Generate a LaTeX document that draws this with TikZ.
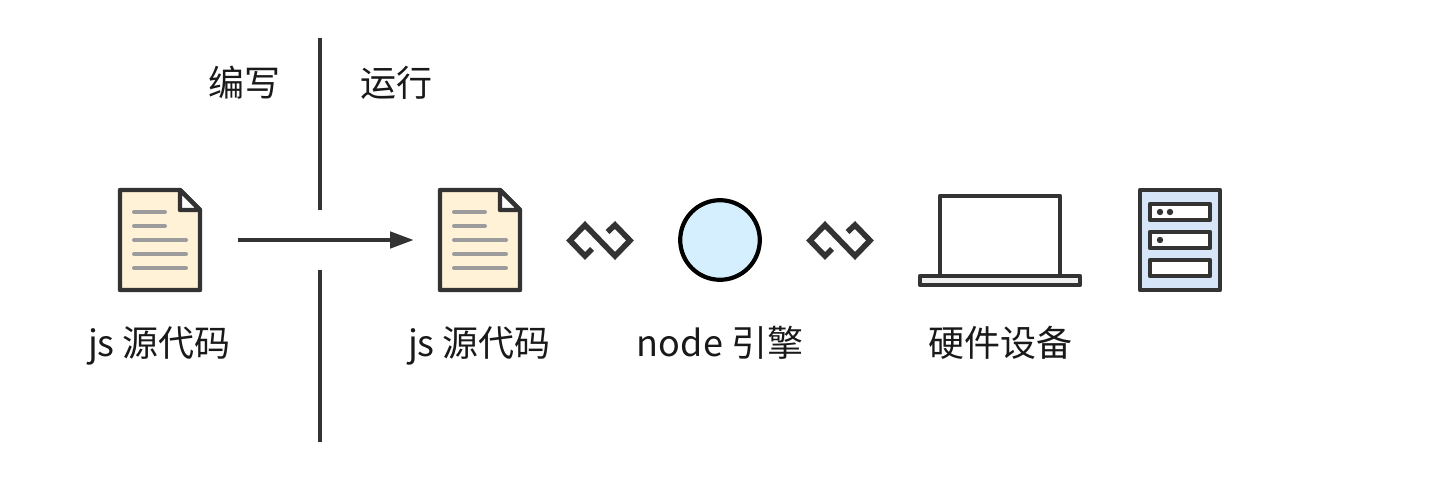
\documentclass[tikz,border=0pt]{standalone}
\usepackage{fontspec}
\setmainfont{Noto Sans CJK SC}
\usetikzlibrary{arrows.meta}
\definecolor{ink}{HTML}{333333}
\definecolor{paper}{HTML}{FFF2D6}
\definecolor{rule}{HTML}{9C9C9C}
\definecolor{sky}{HTML}{D5EFFE}
\definecolor{pale}{HTML}{D6E6F8}
\definecolor{base}{HTML}{F0F0F0}
\tikzset{
  x=0.5pt,y=-0.5pt,
  lbl/.style={inner sep=0pt,anchor=base,text=black!90,font=\fontsize{18pt}{22pt}\selectfont},
  icon/.style={draw=ink,line width=2.2pt,line join=round},
  docrule/.style={draw=rule,line width=2pt,line cap=round},
  inf/.style={draw=ink,line width=2.8pt,line join=miter},
  bar/.style={draw=ink,line width=2.3pt},
}
\newcommand{\docicon}[1]{%
  \begin{scope}[shift={(#1,0)}]
    \draw[icon,fill=paper] (0,190) -- (60,190) -- (80,210) -- (80,290) -- (0,290) -- cycle;
    \draw[icon,fill=white] (60,190) -- (60,210) -- (80,210) -- cycle;
    \draw[docrule] (14,212) -- (45,212);
    \draw[docrule] (14,226) -- (45,226);
    \draw[docrule] (14,240) -- (66,240);
    \draw[docrule] (14,254) -- (66,254);
    \draw[docrule] (14,268) -- (66,268);
  \end{scope}}
\newcommand{\infi}[1]{%
  \draw[inf,shift={(#1,0)}] (592,249) -- (585,256) -- (570,240.5) -- (585,225) -- (615,256) -- (630,240.5) -- (615,225) -- (607.5,232);}
\begin{document}
\begin{tikzpicture}
\useasboundingbox (0,0) rectangle (1440,480);
\coordinate (w1) at (320,38);
\coordinate (w2) at (320,210);
\coordinate (w3) at (320,270);
\coordinate (w4) at (320,442);
\coordinate (a1) at (238,240);
\coordinate (a2) at (414,240);
\draw[bar] (w1) -- (w2);
\draw[bar] (w3) -- (w4);
\draw[bar,-{Triangle[length=12pt,width=8pt]}] (a1) -- (a2);
\docicon{120}
\docicon{440}
\infi{0}
\infi{240}
\node[draw=black,line width=2.1pt,fill=sky,circle,minimum size=39.8pt,inner sep=0pt] (engine) at (720,240) {};
\draw[icon] (940,275) -- (940,196) -- (1060,196) -- (1060,275);
\draw[icon,fill=base] (920,276) rectangle (1080,285);
\draw[icon,fill=pale] (1140,190) rectangle (1220,290);
\draw[icon,fill=white] (1150,204) rectangle (1210,220);
\draw[icon,fill=white] (1150,232) rectangle (1210,248);
\draw[icon,fill=white] (1150,260) rectangle (1210,276);
\fill[ink] (1160,212) circle (1.6pt);
\fill[ink] (1170,212) circle (1.6pt);
\fill[ink] (1160,240) circle (1.6pt);
\node[lbl] (t1) at (244,96.5) {编写};
\node[lbl] (t2) at (396,96.5) {运行};
\node[lbl] (t3) at (159.5,357) {js 源代码};
\node[lbl] (t4) at (479.5,357) {js 源代码};
\node[lbl] (t5) at (720,357) {node 引擎};
\node[lbl] (t6) at (1000,357) {硬件设备};
\end{tikzpicture}
\end{document}
